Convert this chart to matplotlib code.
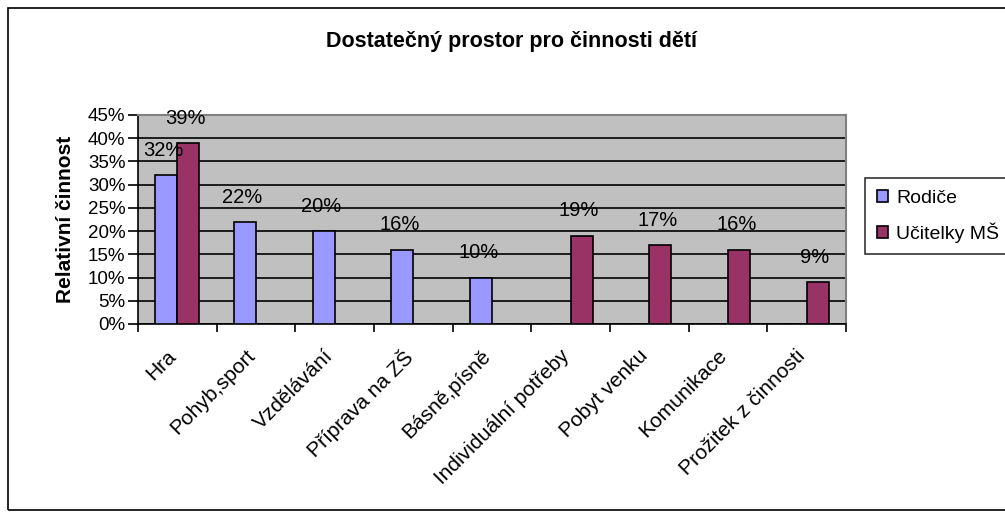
import matplotlib.pyplot as plt
import numpy as np
from matplotlib.patches import Rectangle

plt.rcParams['font.family'] = ['Liberation Sans', 'DejaVu Sans']

# data
categories = ['Hra', 'Pohyb,sport', 'Vzdělávání', 'Příprava na ZŠ', 'Básně,písně',
              'Individuální potřeby', 'Pobyt venku', 'Komunikace', 'Prožitek z činnosti']
rodice = [32, 22, 20, 16, 10, 0, 0, 0, 0]
ucitelky = [39, 0, 0, 0, 0, 19, 17, 16, 9]
series_names = ['Rodiče', 'Učitelky MŠ']

fig = plt.figure(figsize=(10.05, 5.13), dpi=100)
# outer chart border (right side runs off the picture, as in the original)
fig.patches.append(Rectangle((8 / 1005, 3 / 513), 1.1, 502 / 513, transform=fig.transFigure,
                             fill=False, edgecolor='black', linewidth=1.2))

ax = fig.add_axes([138 / 1005, 1 - 324 / 513, 708 / 1005, 209 / 513])
ax.set_facecolor('#C0C0C0')

x = np.arange(len(categories)) + 0.5
w = 0.28
b1 = ax.bar(x - w / 2, rodice, w, color='#9999FF', edgecolor='black', linewidth=1.2,
            label=series_names[0], zorder=3)
b2 = ax.bar(x + w / 2, ucitelky, w, color='#993366', edgecolor='black', linewidth=1.2,
            label=series_names[1], zorder=3)

# value labels (skip empty cells)
for bars, vals in ((b1, rodice), (b2, ucitelky)):
    for bar, v in zip(bars, vals):
        if v == 0:
            continue
        ax.annotate('%d%%' % v, (bar.get_x() + bar.get_width() / 2, v),
                    xytext=(-2, 11), textcoords='offset points', ha='center', va='bottom',
                    fontsize=14.5, zorder=4)

ax.set_xlim(0, len(categories))
ax.set_ylim(0, 45)
ax.set_yticks(np.arange(0, 46, 5))
ax.set_yticklabels(['%d%%' % t for t in range(0, 46, 5)], fontsize=13.5)
ax.yaxis.grid(True, color='black', linewidth=1.2, zorder=1)
ax.set_axisbelow(True)

ax.set_xticks(np.arange(len(categories) + 1))
ax.set_xticklabels([])
# slanted labels sit a little left of the category centre, like Excel does
ax.set_xticks(x - 0.14, minor=True)
ax.set_xticklabels(categories, minor=True, rotation=45, ha='right', va='top',
                   rotation_mode='anchor', fontsize=15)
ax.tick_params(axis='x', which='minor', length=0, pad=16)
ax.tick_params(axis='x', which='major', length=6, width=1.2, direction='out')
ax.tick_params(axis='y', length=7, width=1.2, direction='out', pad=2)

for s in ('top', 'right'):
    ax.spines[s].set_color('#808080')
    ax.spines[s].set_linewidth(1.5)
for s in ('left', 'bottom'):
    ax.spines[s].set_color('black')
    ax.spines[s].set_linewidth(1.2)

ax.set_ylabel('Relativní činnost', fontsize=15, fontweight='bold', labelpad=9)
fig.text(512 / 1005, 1 - 42 / 513, 'Dostatečný prostor pro činnosti dětí', ha='center',
         va='center', fontsize=15.5, fontweight='bold')

leg = fig.legend(handles=[b1, b2], loc='upper left', bbox_to_anchor=(865 / 1005, 1 - 178 / 513),
                 fontsize=14, frameon=True, fancybox=False, edgecolor='black',
                 handlelength=0.6, handleheight=0.6, handletextpad=0.4, labelspacing=0.8,
                 borderpad=0.6, borderaxespad=0)
leg.get_frame().set_linewidth(1.2)

fig.savefig('out.png', dpi=100)
